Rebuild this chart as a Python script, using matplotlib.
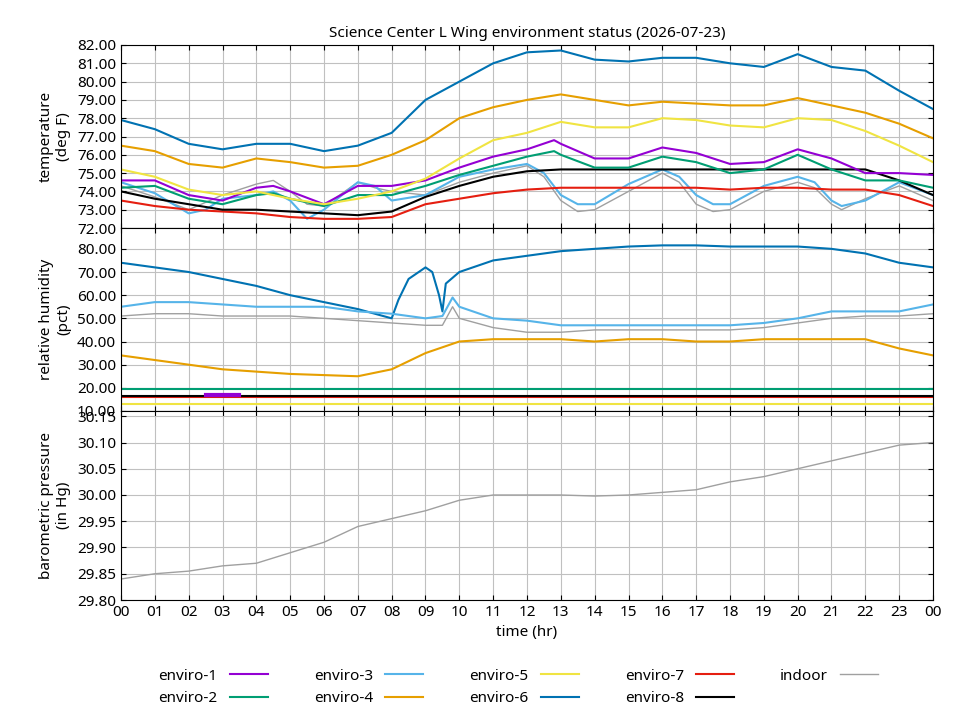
import matplotlib
matplotlib.use("Agg")
import matplotlib.pyplot as plt

hours = list(range(25))
# temperature (deg F)
t_e6 = [77.9,77.4,76.6,76.3,76.6,76.6,76.2,76.5,77.2,79.0,80.0,81.0,81.6,81.7,81.2,81.1,81.3,81.3,81.0,80.8,81.5,80.8,80.6,79.5,78.5]
t_e4 = [76.5,76.2,75.5,75.3,75.8,75.6,75.3,75.4,76.0,76.8,78.0,78.6,79.0,79.3,79.0,78.7,78.9,78.8,78.7,78.7,79.1,78.7,78.3,77.7,76.9]
t_e5 = [75.2,74.8,74.1,73.8,74.0,73.6,73.3,73.6,74.0,74.7,75.8,76.8,77.2,77.8,77.5,77.5,78.0,77.9,77.6,77.5,78.0,77.9,77.3,76.5,75.6]
t_e7 = [73.5,73.2,73.0,72.9,72.8,72.6,72.5,72.5,72.6,73.3,73.6,73.9,74.1,74.2,74.2,74.2,74.2,74.2,74.1,74.2,74.2,74.1,74.1,73.8,73.2]
t_e8 = [74.0,73.6,73.3,73.0,73.0,72.9,72.8,72.7,72.9,73.7,74.3,74.8,75.1,75.2,75.2,75.2,75.2,75.2,75.2,75.2,75.2,75.2,75.2,74.6,73.8]
t_osc = [0,1,2,3,4,4.5,5,6,7,8,9,10,11,12,12.8,13,14,15,16,17,18,19,20,21,22,23,24]
t_e1 = [74.6,74.6,73.8,73.5,74.2,74.3,74.0,73.3,74.3,74.3,74.6,75.3,75.9,76.3,76.8,76.6,75.8,75.8,76.4,76.1,75.5,75.6,76.3,75.8,75.0,75.0,74.9]
t_e2 = [74.2,74.3,73.6,73.3,73.8,73.9,73.6,73.2,73.8,73.8,74.3,74.9,75.4,75.9,76.2,76.0,75.3,75.3,75.9,75.6,75.0,75.2,76.0,75.2,74.6,74.6,74.2]
t_osc2 = [0,1,2,2.5,3,4,4.5,5,5.5,6,7,7.5,8,9,10,11,12,12.5,13,13.5,14,15,16,16.5,17,17.5,18,19,20,20.5,21,21.3,22,23,24]
t_e3 = [74.5,73.9,72.8,73.0,73.6,73.8,74.0,73.5,72.5,73.0,74.5,74.3,73.5,73.8,74.8,75.2,75.5,75.0,73.8,73.3,73.3,74.4,75.2,74.8,73.8,73.3,73.3,74.3,74.8,74.5,73.5,73.2,73.5,74.5,73.8]
t_in = [74.3,73.7,73.0,73.4,73.8,74.4,74.6,74.0,73.3,73.2,74.5,74.2,74.0,73.8,74.5,75.0,75.4,74.8,73.5,72.9,73.0,74.0,75.0,74.5,73.3,72.9,73.0,74.0,74.5,74.2,73.3,73.0,73.6,74.3,73.5]

# relative humidity (pct)
h_e6_t = [0,1,2,3,4,5,6,7,8,8.2,8.5,9,9.2,9.4,9.5,9.6,10,11,12,13,14,15,16,17,18,19,20,21,22,23,24]
h_e6 = [74,72,70,67,64,60,57,54,50,58,67,72,70,60,53,65,70,75,77,79,80,81,81.5,81.5,81,81,81,80,78,74,72]
h_e3_t = [0,1,2,3,4,5,6,7,8,9,9.5,9.8,10,11,12,13,14,15,16,17,18,19,20,21,22,23,24]
h_e3 = [55,57,57,56,55,55,55,53,52,50,51,59,55,50,49,47,47,47,47,47,47,48,50,53,53,53,56]
h_in = [51,52,52,51,51,51,50,49,48,47,47,55,50,46,44,44,45,45,45,45,45,46,48,50,51,51,52]
h_e4 = [34,32,30,28,27,26,25.5,25,28,35,40,41,41,41,40,41,41,40,40,41,41,41,41,37,34]
h_e2 = [19.5]*25
h_e8 = [16.5]*25
h_e7 = [16.0]*25
h_e5 = [13.0]*25
h_e1_t = [2.5,3.5]
h_e1 = [17.0,17.0]

# pressure (in Hg)
p_in = [29.84,29.85,29.855,29.865,29.87,29.89,29.91,29.94,29.955,29.97,29.99,30.0,30.0,30.0,29.998,30.0,30.005,30.01,30.025,30.035,30.05,30.065,30.08,30.095,30.10]

xlabels = ["%02d" % (h % 24) for h in hours]

C = {"enviro-1":"#9400d3","enviro-2":"#009e73","enviro-3":"#56b4e9","enviro-4":"#e69f00",
     "enviro-5":"#f0e442","enviro-6":"#0072b2","enviro-7":"#e51e10","enviro-8":"#000000","indoor":"#a0a0a0"}

plt.rcParams['font.family'] = ['Noto Sans', 'DejaVu Sans']
plt.rcParams['font.size'] = 11
fig = plt.figure(figsize=(9.6, 7.2), dpi=100)
L, R = 121/960, 933/960
def ax_at(top, bot):
    return fig.add_axes([L, 1-bot/720, R-L, (bot-top)/720])
a1 = ax_at(45, 228); a2 = ax_at(228, 411); a3 = ax_at(411, 600)

lw = 1.5
a1.plot(t_osc2, t_in, color=C["indoor"], lw=1)
a1.plot(t_osc2, t_e3, color=C["enviro-3"], lw=lw)
a1.plot(hours, t_e7, color=C["enviro-7"], lw=lw)
a1.plot(hours, t_e8, color=C["enviro-8"], lw=lw)
a1.plot(t_osc, t_e2, color=C["enviro-2"], lw=lw)
a1.plot(t_osc, t_e1, color=C["enviro-1"], lw=lw)
a1.plot(hours, t_e5, color=C["enviro-5"], lw=lw)
a1.plot(hours, t_e4, color=C["enviro-4"], lw=lw)
a1.plot(hours, t_e6, color=C["enviro-6"], lw=lw)
a1.set_ylim(72, 82); a1.set_yticks([72+i for i in range(11)])
a1.set_ylabel("temperature\n(deg F)")

a2.plot(h_e6_t, h_e6, color=C["enviro-6"], lw=lw)
a2.plot(h_e3_t, h_in, color=C["indoor"], lw=1)
a2.plot(h_e3_t, h_e3, color=C["enviro-3"], lw=lw)
a2.plot(hours, h_e4, color=C["enviro-4"], lw=lw)
a2.plot(hours, h_e2, color=C["enviro-2"], lw=lw)
a2.plot(hours, h_e7, color=C["enviro-7"], lw=lw)
a2.plot(hours, h_e8, color=C["enviro-8"], lw=lw)
a2.plot(hours, h_e5, color=C["enviro-5"], lw=lw)
a2.plot(h_e1_t, h_e1, color=C["enviro-1"], lw=lw*2)
a2.set_ylim(12.2, 89); a2.set_yticks([10,20,30,40,50,60,70,80])
a2.set_ylabel("relative humidity\n(pct)")

a3.plot(hours, p_in, color=C["indoor"], lw=1)
a3.set_ylim(29.8, 30.16); a3.set_yticks([29.8+0.05*i for i in range(8)])
a3.set_ylabel("barometric pressure\n(in Hg)")
a3.set_xlabel("time (hr)")

for a in (a1, a2, a3):
    a.set_xlim(0, 24)
    a.set_xticks(hours)
    a.grid(True, color="#c0c0c0", lw=0.8)
    a.tick_params(direction="in", top=True, right=True, labelsize=11)
    a.yaxis.set_major_formatter(matplotlib.ticker.FormatStrFormatter("%.2f"))
    a.set_axisbelow(True)
for a in (a1, a2):
    a.set_xticklabels([])
a3.set_xticklabels(xlabels)
a1.set_title("Science Center L Wing environment status (2026-07-23)", fontsize=11)

names = ["enviro-1","enviro-2","enviro-3","enviro-4","enviro-5","enviro-6","enviro-7","enviro-8","indoor"]
handles = [matplotlib.lines.Line2D([], [], color=C[n], lw=1 if n=="indoor" else lw) for n in names]
fig.legend(handles, names, ncol=5, loc="lower center", bbox_to_anchor=(0.54, 0.0),
           frameon=False, markerfirst=False, handlelength=2.5, columnspacing=3, fontsize=11)
fig.savefig("out.png", dpi=100)
